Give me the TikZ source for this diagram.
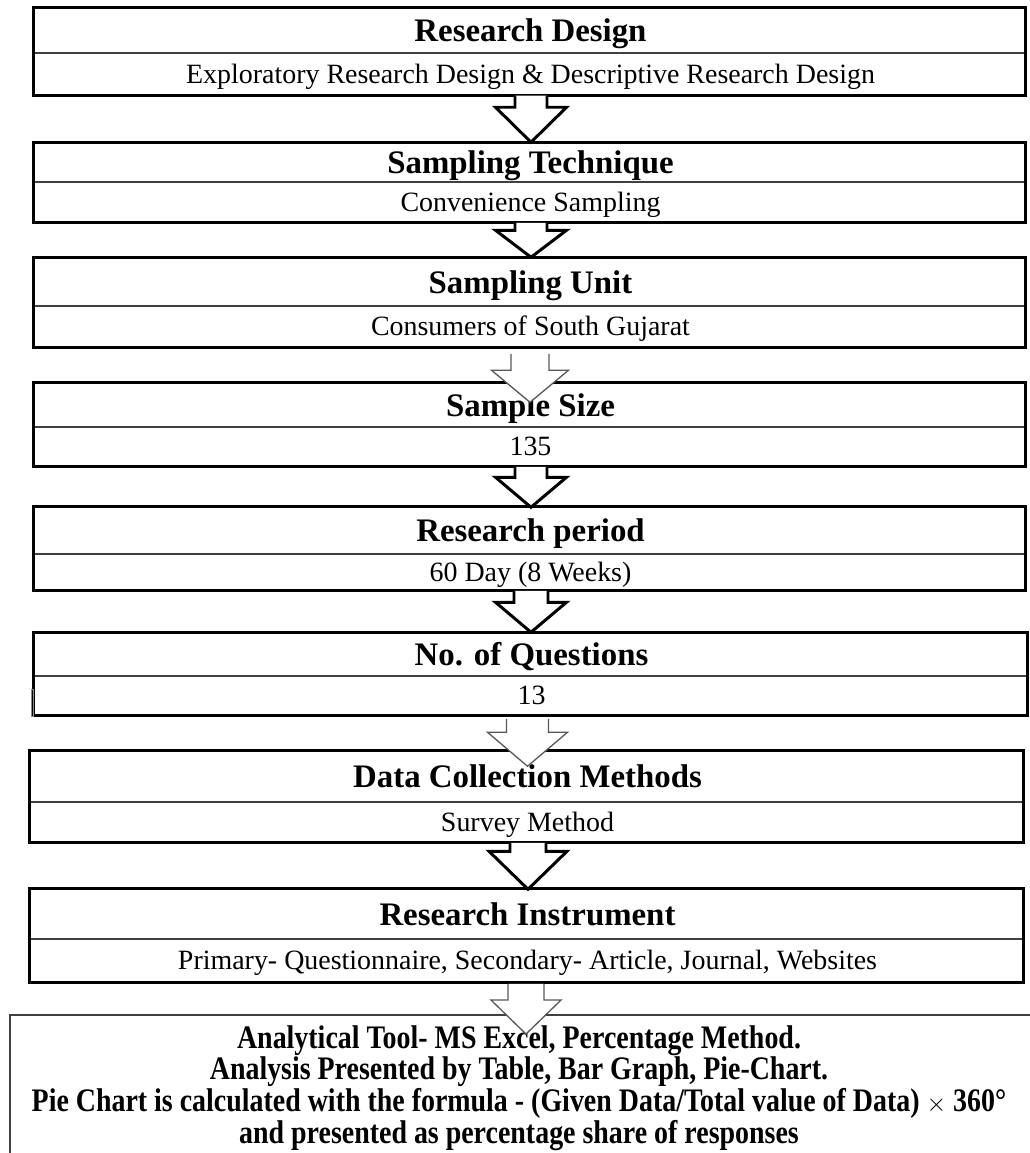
\documentclass[tikz,border=0pt]{standalone}
\usepackage{fontspec}
\setmainfont{Liberation Serif}
\newfontfamily\condserif[FakeStretch=0.85]{Liberation Serif}
\usetikzlibrary{calc,fit}

\tikzset{
  cell/.style={draw=black!75, line width=0.85pt, fill=white, inner sep=0pt},
  headtext/.style={anchor=base, inner sep=0pt,
    font=\bfseries\fontsize{18.7}{20}\selectfont},
  subtext/.style={anchor=base, inner sep=0pt,
    font=\fontsize{15.9}{18}\selectfont},
  outerline/.style={draw=black, line width=1.7pt},
  boldarrow/.style={draw=black, line width=1.7pt, fill=white, line join=miter},
  lightarrow/.style={draw=black!65, line width=0.75pt, fill=white, line join=miter},
  finalbox/.style={draw=black!75, line width=1.1pt, inner sep=0pt},
  finaltext/.style={align=center, inner sep=0pt,
    font=\condserif\bfseries\fontsize{18.7}{18.1}\selectfont}
}

% #1 name, #2 left, #3 right, #4 top, #5 divider, #6 bottom, #7 heading, #8 detail
\newcommand\flowbox[8]{%
  \node[cell, fit={(#2,#4) (#3,#5)}] (#1h) {};
  \node[cell, fit={(#2,#5) (#3,#6)}] (#1s) {};
  \draw[outerline] (#1h.north west) rectangle (#1s.south east);
  \node[headtext] (#1ht) at ($(#1h.center)+(1,11)$) {#7};
  \node[subtext] (#1st) at ($(#1s.center)+(1,9)$) {#8};
}

% hollow block arrow: #1 style, #2 shaft start, #3 tip, #4 shaft half width,
% #5 head half width, #6 head length
\newcommand\blockarrow[6]{%
  \draw[#1] ($(#3 |- #2)+(-#4,0)$) -- ($(#3)+(-#4,-#6)$) -- ($(#3)+(-#5,-#6)$)
    -- (#3) -- ($(#3)+(#5,-#6)$) -- ($(#3)+(#4,-#6)$) -- ($(#3 |- #2)+(#4,0)$);
}

\begin{document}
\begin{tikzpicture}[x=0.02cm, y=-0.02cm]
\useasboundingbox (0,0) rectangle (1029,1153);

\flowbox{b1}{34}{1025}{8}{53}{95}{Research Design}
  {Exploratory Research Design \& Descriptive Research Design}
\flowbox{b2}{34}{1025}{143}{182}{222}{Sampling Technique}{Convenience Sampling}
\flowbox{b3}{34}{1025}{258}{306}{347}{Sampling Unit}{Consumers of South Gujarat}
\flowbox{b4}{34}{1025}{383}{427}{466}{Sample Size}{135}
\flowbox{b5}{34}{1025}{507}{554}{590}{Research period}{60 Day (8 Weeks)}
\flowbox{b6}{34}{1027}{633}{676}{715}{No. of Questions}{13}
\flowbox{b7}{30}{1023}{751}{802}{842}{Data Collection Methods}{Survey Method}
\flowbox{b8}{30}{1023}{889}{939}{982}{Research Instrument}
  {Primary- Questionnaire, Secondary- Article, Journal, Websites}

% small stray mark beside the questions box
\draw[black!45, line width=0.4pt] (31,689) rectangle (33.5,716);

% final box runs off the page edge
\node[finalbox, fit={(10,1015) (1045,1170)}] (b9) {};
\node[finaltext] (b9t) at (519,1088) {%
  Analytical Tool- MS Excel, Percentage Method.\\
  Analysis Presented by Table, Bar Graph, Pie-Chart.\\
  Pie Chart is calculated with the formula - (Given Data/Total value of Data) {\mdseries\fontsize{15}{15}\selectfont$\times$} 360°\\
  and presented as percentage share of responses};

% arrow ends
\coordinate (s1) at (b1s.south);
\coordinate (t1) at ($(b2h.north)+(1.5,0)$);
\coordinate (s2) at (b2s.south);
\coordinate (t2) at ($(b3h.north)+(1.5,0)$);
\coordinate (s3) at ($(b3s.south)+(0,6)$);
\coordinate (t3) at ($(b4h.north)+(0.5,20)$);
\coordinate (s4) at (b4s.south);
\coordinate (t4) at ($(b5h.north)+(1.5,1)$);
\coordinate (s5) at (b5s.south);
\coordinate (t5) at ($(b6h.north)+(0.5,0)$);
\coordinate (s6) at ($(b6s.south)+(0,3)$);
\coordinate (t6) at ($(b7h.north)+(1,16)$);
\coordinate (s7) at (b7s.south);
\coordinate (t7) at ($(b8h.north)+(1.5,1)$);
\coordinate (s8) at ($(b8s.south)+(0,1)$);
\coordinate (t8) at ($(b9.north)+(-1.5,20)$);

\blockarrow{boldarrow}{s1}{t1}{16}{35.5}{35}
\blockarrow{boldarrow}{s2}{t2}{16}{35.5}{27}
\blockarrow{lightarrow}{s3}{t3}{19}{38.5}{32}
\blockarrow{boldarrow}{s4}{t4}{16}{35.5}{30}
\blockarrow{boldarrow}{s5}{t5}{17}{35.5}{30}
\blockarrow{lightarrow}{s6}{t6}{21}{40}{34}
\blockarrow{boldarrow}{s7}{t7}{18}{39}{38}
\blockarrow{lightarrow}{s8}{t8}{18}{35}{34}
\end{tikzpicture}
\end{document}
